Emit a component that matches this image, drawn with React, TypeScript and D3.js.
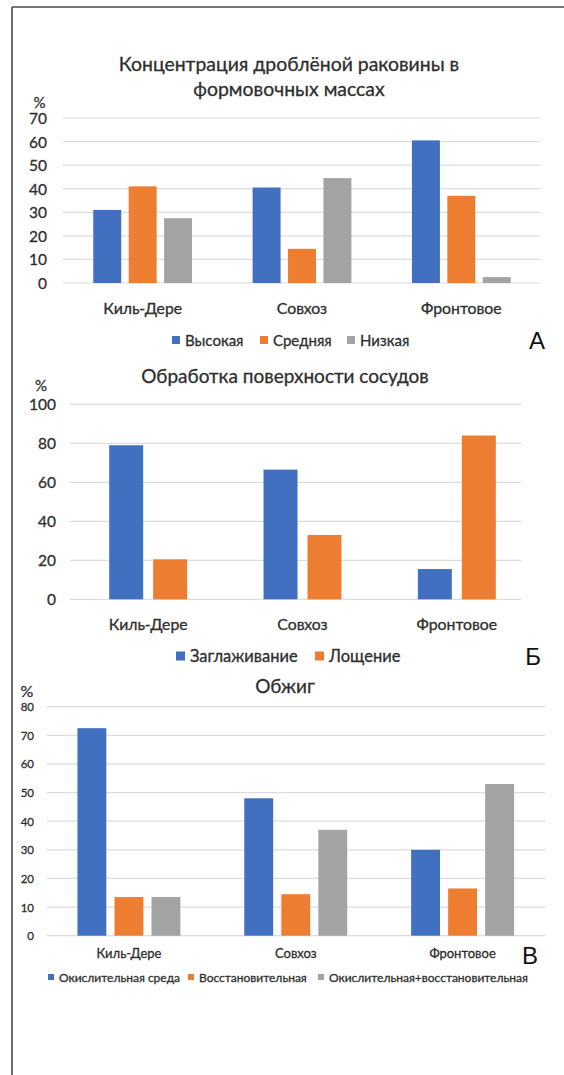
import React from "react";
import * as d3 from "d3";

// categories shared by all three panels
const sites = ["Киль-Дере", "Совхоз", "Фронтовое"];

// A — concentration of crushed shell
const shellSeries = ["Высокая", "Средняя", "Низкая"];
const shellValues = [
  [31, 41, 27.5],
  [40.5, 14.5, 44.5],
  [60.5, 37, 2.5],
];
const shellTicks = [0, 10, 20, 30, 40, 50, 60, 70];

// Б — surface treatment
const surfaceSeries = ["Заглаживание", "Лощение"];
const surfaceValues = [
  [79, 20.5],
  [66.5, 33],
  [15.5, 84],
];
const surfaceTicks = [0, 20, 40, 60, 80, 100];

// В — firing
const firingSeries = ["Окислительная среда", "Восстановительная", "Окислительная+восстановительная"];
const firingValues = [
  [72.5, 13.5, 13.5],
  [48, 14.5, 37],
  [30, 16.5, 53],
];
const firingTicks = [0, 10, 20, 30, 40, 50, 60, 70, 80];

const colors = ["#4170c0", "#ed7d31", "#a3a3a3"];
const FONT = "Lato, 'Open Sans', sans-serif";
// scanned Calibri looks a bit heavier than plain Lato
const ink = { fill: "#2e2e2e", stroke: "#2e2e2e", strokeWidth: 0.3 };

type Layout = {
  title: string[];
  titleX: number;
  titleY: number;
  titleSize: number;
  yTop: number;
  yBottom: number;
  xRange: [number, number];
  gridX: [number, number];
  groupFrac: number;
  barPad: number;
  tickX: number;
  tickSize: number;
  pct: [number, number, number];
  catY: number;
  catSize: number;
  legendY: number;
  legendSize: number;
  legendBox: number;
  legendX: number[];
  letter: string;
  letterPos: [number, number];
};

function Panel({
  series,
  values,
  ticks,
  layout: L,
}: {
  series: string[];
  values: number[][];
  ticks: number[];
  layout: Layout;
}) {
  const y = d3
    .scaleLinear()
    .domain([0, ticks[ticks.length - 1]])
    .range([L.yBottom, L.yTop]);
  const x0 = d3.scaleBand<string>().domain(sites).range(L.xRange).padding(0);
  const groupW = x0.step() * L.groupFrac;
  const x1 = d3
    .scaleBand<string>()
    .domain(series)
    .range([0, groupW])
    .paddingInner(L.barPad)
    .paddingOuter(0);
  const off = (x0.step() - groupW) / 2;

  return (
    <g fontFamily={FONT}>
      {L.title.map((t, i) => (
        <text
          key={t}
          x={L.titleX}
          y={L.titleY + i * 25}
          textAnchor="middle"
          dominantBaseline="central"
          fontSize={L.titleSize}
          {...ink}
        >
          {t}
        </text>
      ))}
      <text
        x={L.pct[0]}
        y={L.pct[1]}
        textAnchor="middle"
        dominantBaseline="central"
        fontSize={L.pct[2]}
        {...ink}
      >
        %
      </text>
      {ticks.map((t) => (
        <g key={t}>
          <line
            x1={L.gridX[0]}
            x2={L.gridX[1]}
            y1={y(t)}
            y2={y(t)}
            stroke="#dcdcdc"
            strokeWidth={1.2}
          />
          <text
            x={L.tickX}
            y={y(t)}
            textAnchor="end"
            dominantBaseline="central"
            fontSize={L.tickSize}
            {...ink}
          >
            {t}
          </text>
        </g>
      ))}
      {sites.map((s, ci) => (
        <g key={s} transform={`translate(${(x0(s) ?? 0) + off},0)`}>
          {series.map((name, si) => (
            <rect
              key={name}
              x={x1(name)}
              width={x1.bandwidth()}
              y={y(values[ci][si])}
              height={y(0) - y(values[ci][si])}
              fill={colors[si]}
            />
          ))}
        </g>
      ))}
      {sites.map((s) => (
        <text
          key={s}
          x={(x0(s) ?? 0) + x0.bandwidth() / 2}
          y={L.catY}
          textAnchor="middle"
          dominantBaseline="central"
          fontSize={L.catSize}
          {...ink}
        >
          {s}
        </text>
      ))}
      {series.map((name, si) => (
        <g key={name} transform={`translate(${L.legendX[si]},${L.legendY})`}>
          <rect
            x={0}
            y={-L.legendBox / 2}
            width={L.legendBox}
            height={L.legendBox}
            fill={colors[si]}
          />
          <text
            x={L.legendBox + 5}
            y={0}
            dominantBaseline="central"
            fontSize={L.legendSize}
            {...ink}
          >
            {name}
          </text>
        </g>
      ))}
      <text
        x={L.letterPos[0]}
        y={L.letterPos[1]}
        textAnchor="middle"
        dominantBaseline="central"
        fontSize={24}
        fontFamily="'Liberation Sans', Arial, sans-serif"
        fill="#111"
      >
        {L.letter}
      </text>
    </g>
  );
}

const layoutA: Layout = {
  title: ["Концентрация дроблёной раковины в", "формовочных массах"],
  titleX: 289,
  titleY: 63,
  titleSize: 19.4,
  yTop: 118,
  yBottom: 283,
  xRange: [63, 541],
  gridX: [63, 540],
  groupFrac: 0.62,
  barPad: 0.21,
  tickX: 47,
  tickSize: 15.5,
  pct: [39.5, 102, 15],
  catY: 307,
  catSize: 15.8,
  legendY: 340,
  legendSize: 15,
  legendBox: 8,
  legendX: [172, 260, 347],
  letter: "А",
  letterPos: [537, 340],
};

const layoutB: Layout = {
  title: ["Обработка поверхности сосудов"],
  titleX: 285,
  titleY: 375,
  titleSize: 19,
  yTop: 404.3,
  yBottom: 599.3,
  xRange: [71, 534],
  gridX: [70, 521],
  groupFrac: 0.505,
  barPad: 0.227,
  tickX: 56,
  tickSize: 15.5,
  pct: [41, 385, 15],
  catY: 623,
  catSize: 15.8,
  legendY: 656,
  legendSize: 16.5,
  legendBox: 9,
  legendX: [176, 315],
  letter: "Б",
  letterPos: [533, 656],
};

const layoutC: Layout = {
  title: ["Обжиг"],
  titleX: 285,
  titleY: 685,
  titleSize: 19,
  yTop: 706.7,
  yBottom: 935.7,
  xRange: [45.5, 546],
  gridX: [47, 545],
  groupFrac: 0.617,
  barPad: 0.22,
  tickX: 34,
  tickSize: 11.5,
  pct: [27, 690, 16],
  catY: 953,
  catSize: 13,
  legendY: 977,
  legendSize: 12,
  legendBox: 6,
  legendX: [48, 188, 318],
  letter: "В",
  letterPos: [530, 955],
};

export default function App() {
  return (
    <svg
      width={564}
      height={1075}
      style={{ position: "absolute", left: 0, top: 0, background: "#fff" }}
    >
      <rect width={564} height={1075} fill="#fff" />
      <line x1={12} x2={564} y1={7} y2={7} stroke="#4a4a4a" strokeWidth={1.6} />
      <line x1={12} x2={12} y1={7} y2={1075} stroke="#4a4a4a" strokeWidth={1.6} />
      <Panel series={shellSeries} values={shellValues} ticks={shellTicks} layout={layoutA} />
      <Panel series={surfaceSeries} values={surfaceValues} ticks={surfaceTicks} layout={layoutB} />
      <Panel series={firingSeries} values={firingValues} ticks={firingTicks} layout={layoutC} />
    </svg>
  );
}
